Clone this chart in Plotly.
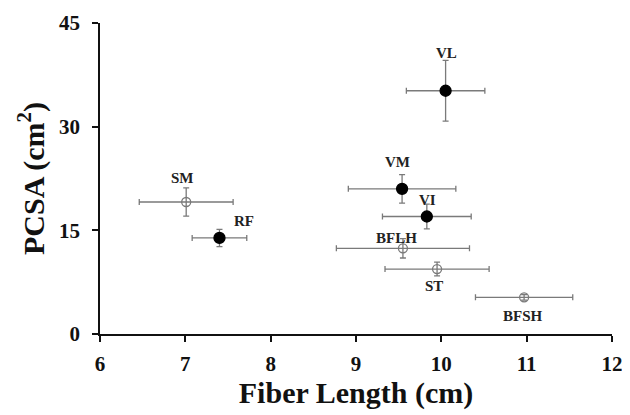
import plotly.graph_objects as go

muscles = ["VL", "VM", "VI", "RF", "SM", "BFLH", "ST", "BFSH"]
fiber_length = [10.05, 9.54, 9.83, 7.40, 7.01, 9.55, 9.95, 10.97]
fiber_length_sd = [0.46, 0.63, 0.52, 0.32, 0.55, 0.78, 0.61, 0.57]
pcsa = [35.2, 21.0, 17.0, 13.9, 19.1, 12.4, 9.4, 5.3]
pcsa_sd = [4.4, 2.05, 1.8, 1.25, 2.05, 1.4, 1.0, 0.4]
quadriceps = ["VL", "VM", "VI", "RF"]

x_ticks = [6, 7, 8, 9, 10, 11, 12]
y_ticks = [0, 15, 30, 45]

# label offsets in pixels (layout only)
label_shift = {
    "VL": (1, 38), "VM": (-5, 27), "VI": (1, 17), "RF": (25, 17),
    "SM": (-4, 24), "BFLH": (-6, 10), "ST": (-3, -17), "BFSH": (-1, -19),
}

serif = "Liberation Serif, Times New Roman, serif"
grey = "#7a7a7a"

fig = go.Figure()
for filled in (False, True):
    idx = [i for i, m in enumerate(muscles) if (m in quadriceps) == filled]
    fig.add_trace(go.Scatter(
        x=[fiber_length[i] for i in idx],
        y=[pcsa[i] for i in idx],
        mode="markers",
        marker=dict(
            symbol="circle" if filled else "circle-open",
            size=11 if filled else 9,
            color="black" if filled else grey,
            line=dict(width=1.3, color="black" if filled else grey),
        ),
        error_x=dict(type="data", array=[fiber_length_sd[i] for i in idx],
                     color=grey, thickness=1.3, width=3),
        error_y=dict(type="data", array=[pcsa_sd[i] for i in idx],
                     color=grey, thickness=1.3, width=3),
        showlegend=False,
        hoverinfo="skip",
    ))

for i, m in enumerate(muscles):
    dx, dy = label_shift[m]
    fig.add_annotation(
        x=fiber_length[i], y=pcsa[i], text=f"<b>{m}</b>",
        showarrow=False, xshift=dx, yshift=dy,
        font=dict(family=serif, size=15, color="#222"),
    )

axis_common = dict(
    showgrid=False, zeroline=False, showline=True, linecolor="#111",
    linewidth=1.6, ticks="outside", ticklen=6, tickwidth=1.6, tickcolor="#111",
    tickfont=dict(family=serif, size=21, color="#111"),
)

fig.update_xaxes(
    range=[6, 12], tickvals=x_ticks, ticktext=[f"<b>{t}</b>" for t in x_ticks],
    ticklabelstandoff=4,
    title=dict(text="<b>Fiber Length (cm)</b>",
               font=dict(family=serif, size=30, color="#111"), standoff=4),
    **axis_common,
)
fig.update_yaxes(
    range=[0, 45], tickvals=y_ticks, ticktext=[f"<b>{t}</b>" for t in y_ticks],
    ticklabelstandoff=8,
    title=dict(text="<b>PCSA (cm<sup>2</sup>)</b>",
               font=dict(family=serif, size=30, color="#111"), standoff=6),
    **axis_common,
)

fig.update_layout(
    width=630, height=415,
    margin=dict(l=92, r=26, t=15, b=89, autoexpand=False),
    plot_bgcolor="white", paper_bgcolor="white",
)

fig.write_html("out.html")
